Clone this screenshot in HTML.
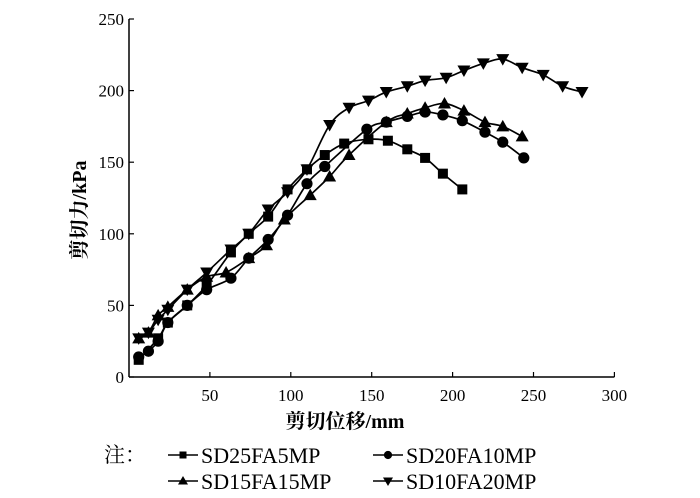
<!DOCTYPE html>
<html><head><meta charset="utf-8"><style>
html,body{margin:0;padding:0;background:#fff;}
svg{display:block;font-family:"Liberation Serif","Noto Serif CJK SC",serif;}
</style></head><body>
<svg id="chart" width="700" height="498" viewBox="0 0 700 498" xmlns="http://www.w3.org/2000/svg">
<g id="axes"></g><g id="series"></g>
<text x="0" y="0" transform="translate(86,210) rotate(-90)" text-anchor="middle" font-size="20" font-weight="bold" font-family="'Liberation Serif','Noto Serif CJK SC',serif">剪切力/kPa</text>
<text x="345" y="428" text-anchor="middle" font-size="20" font-weight="bold">剪切位移/mm</text>
<g font-size="21">
<text x="104" y="462" font-size="21">注：</text>
<g id="legend"></g>
</g>
</svg>
<script>
const xTicks=[50,100,150,200,250,300];
const yTicks=[0,50,100,150,200,250];
const names=["SD25FA5MP","SD20FA10MP","SD15FA15MP","SD10FA20MP"];
const sqX=[6,18,24,36,48,63,74,86,98,110,121,133,148,160,172,183,194,206];
const sqY=[12,27,38,50,64,87,100,112,131,145,155,163,166,165,159,153,142,131];
const ciX=[6,12,18,24,36,48,63,74,86,98,110,121,147,159,172,183,194,206,220,231,244];
const ciY=[14,18,25,38,50,61,69,83,96,113,135,147,173,178,182,185,183,179,171,164,153];
const upX=[6,12,18,24,36,48,60,74,85,96,112,124,136,159,172,183,195,207,220,231,243];
const upY=[27,31,43,49,61,70,73,83,92,110,127,140,155,178,184,188,191,186,178,175,168];
const dnX=[6,12,18,24,36,48,63,74,86,98,110,124,136,148,159,172,183,196,207,219,231,243,256,268,280];
const dnY=[27,31,40,47,61,73,89,100,117,129,145,176,188,193,199,203,207,209,214,219,222,216,211,203,199];
const NS="http://www.w3.org/2000/svg";
const X0=129,XS=1.618,Y0=377,YS=1.432;
const sx=v=>X0+v*XS, sy=v=>Y0-v*YS;
function mk(tag,at,parent){const e=document.createElementNS(NS,tag);for(const k in at)e.setAttribute(k,at[k]);parent.appendChild(e);return e;}
const axes=document.getElementById('axes');
let a=mk('line',{x1:X0,y1:sy(250),x2:X0,y2:Y0,stroke:'#000','stroke-width':1.5},axes);


a=mk('line',{x1:X0,y1:Y0,x2:sx(300),y2:Y0,stroke:'#000','stroke-width':1.5},axes);


xTicks.forEach(t=>{
 const l=mk('line',{x1:sx(t),y1:Y0,x2:sx(t),y2:Y0-5,stroke:'#000','stroke-width':1.2},axes);
 
 
 const tx=mk('text',{x:sx(t),y:Y0+24,'text-anchor':'middle','font-size':17},axes);tx.textContent=t;
 
 
});
yTicks.forEach(t=>{
 const l=mk('line',{x1:X0,y1:sy(t),x2:X0+5,y2:sy(t),stroke:'#000','stroke-width':1.2},axes);
 
 
 const tx=mk('text',{x:X0-5,y:sy(t)+6,'text-anchor':'end','font-size':17},axes);tx.textContent=t;
 
 
});
function marker(type,x,y,p,s){
 if(type==0)return mk('rect',{x:x-s,y:y-s,width:2*s,height:2*s,fill:'#000'},p);
 if(type==1)return mk('circle',{cx:x,cy:y,r:s+0.6,fill:'#000'},p);
 if(type==2)return mk('polygon',{points:`${x},${y-s-1.5} ${x-s-1.5},${y+s} ${x+s+1.5},${y+s}`,fill:'#000'},p);
 return mk('polygon',{points:`${x},${y+s+1.5} ${x-s-1.5},${y-s} ${x+s+1.5},${y-s}`,fill:'#000'},p);
}
function smooth(pts){
 let d='M'+pts[0][0]+','+pts[0][1];
 for(let i=0;i<pts.length-1;i++){
  const p0=pts[Math.max(0,i-1)],p1=pts[i],p2=pts[i+1],p3=pts[Math.min(pts.length-1,i+2)];
  const c1=[p1[0]+(p2[0]-p0[0])/6,p1[1]+(p2[1]-p0[1])/6];
  const c2=[p2[0]-(p3[0]-p1[0])/6,p2[1]-(p3[1]-p1[1])/6];
  d+=` C${c1[0]},${c1[1]} ${c2[0]},${c2[1]} ${p2[0]},${p2[1]}`;
 }
 return d;
}
const seriesX=[sqX,ciX,upX,dnX],seriesY=[sqY,ciY,upY,dnY];
const sg=document.getElementById('series');
seriesX.forEach((xs,i)=>{
 const g=mk('g',{},sg);
 
 
 mk('path',{d:smooth(xs.map((v,j)=>[sx(v),sy(seriesY[i][j])])),fill:'none',stroke:'#000','stroke-width':1.7},g);
 xs.forEach((v,j)=>{const m=marker(i,sx(v),sy(seriesY[i][j]),g,5);
  
  });
});
const lg=document.getElementById('legend');
const lpos=[[168,455],[373,455],[168,481],[373,481]];
names.forEach((n,i)=>{
 const [x,y]=lpos[i];
 const g=mk('g',{},lg);
 
 
 mk('line',{x1:x,y1:y,x2:x+30,y2:y,stroke:'#000','stroke-width':1.5},g);
 marker(i,x+15,y,g,3.5);
 const t=mk('text',{x:x+33,y:y+8,'font-size':22},g);t.textContent=n;
});
</script>
</body></html>
